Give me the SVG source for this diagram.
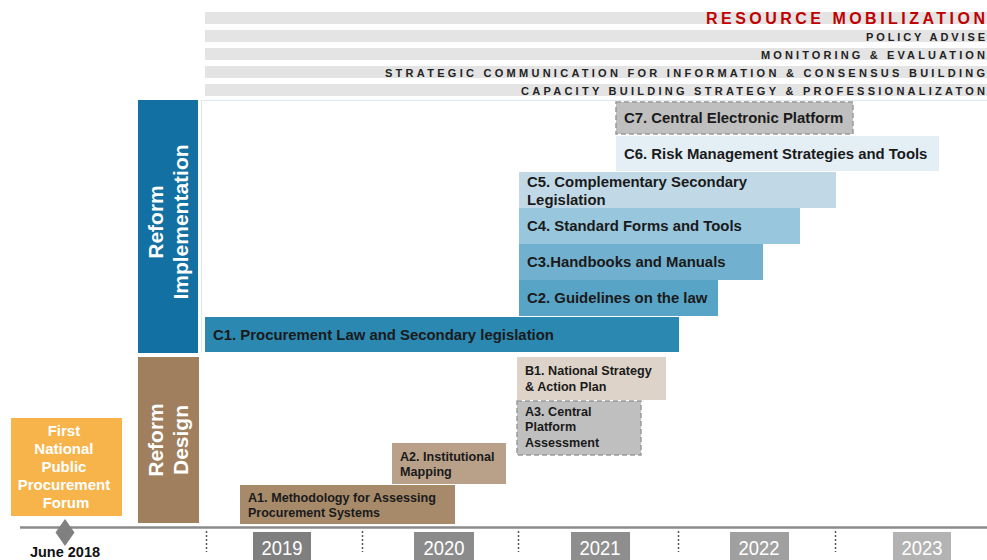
<svg xmlns="http://www.w3.org/2000/svg" width="987" height="560" viewBox="0 0 987 560">
<style>
.band{fill:#e4e4e4}
.bt{font-family:"Liberation Sans",Arial,sans-serif;font-size:11px;font-weight:bold;fill:#222}
.red{font-family:"Liberation Sans",Arial,sans-serif;font-size:16px;font-weight:bold;fill:#c00000}
.ct{font-family:"Liberation Sans",Arial,sans-serif;font-size:14.9px;font-weight:bold;fill:#1a1a1a}
.at{font-family:"Liberation Sans",Arial,sans-serif;font-size:12.6px;font-weight:bold;fill:#1a1a1a}
.wt{font-family:"Liberation Sans",Arial,sans-serif;font-weight:bold;fill:#ffffff}
.yr{font-family:"Liberation Sans",Arial,sans-serif;font-size:20px;fill:#ffffff}
.dash{fill:#bfbfbf;stroke:#9a9a9a;stroke-width:1.5;stroke-dasharray:5,3}
.dot{stroke:#555;stroke-width:1.5;stroke-dasharray:2,2}
</style>
<rect width="987" height="560" fill="#ffffff"/>

<g id="bands">
<rect class="band" x="205" y="12" width="782" height="12"/>
<text class="red" x="706" y="23.5" textLength="279" lengthAdjust="spacing">RESOURCE MOBILIZATION</text>
<rect class="band" x="205" y="30" width="782" height="12"/>
<text class="bt" x="866" y="40.5" textLength="119" lengthAdjust="spacing">POLICY ADVISE</text>
<rect class="band" x="205" y="48" width="782" height="12"/>
<text class="bt" x="761" y="58.5" textLength="224" lengthAdjust="spacing">MONITORING &amp; EVALUATION</text>
<rect class="band" x="205" y="66" width="782" height="12"/>
<text class="bt" x="385" y="76.5" textLength="600" lengthAdjust="spacing">STRATEGIC COMMUNICATION FOR INFORMATION &amp; CONSENSUS BUILDING</text>
<rect class="band" x="205" y="84" width="782" height="12"/>
<text class="bt" x="521" y="94.5" textLength="464" lengthAdjust="spacing">CAPACITY BUILDING STRATEGY &amp; PROFESSIONALIZATON</text>
</g>

<g id="frame">
<line x1="202" y1="100.5" x2="987" y2="100.5" stroke="#dfe6ec" stroke-width="1"/>
<line x1="201.5" y1="100" x2="201.5" y2="352" stroke="#dfe6ec" stroke-width="1"/>
</g>

<g id="reform-implementation">
<rect x="138" y="100" width="60" height="253" fill="#1270a2"/>
<g transform="translate(168,222) rotate(-90)">
<text class="wt" font-size="21" x="0" y="-5" text-anchor="middle">Reform</text>
<text class="wt" font-size="21" x="0" y="20" text-anchor="middle">Implementation</text>
</g>
</g>

<g id="reform-design">
<rect x="138" y="357" width="61" height="166" fill="#a07f5e"/>
<g transform="translate(168,440) rotate(-90)">
<text class="wt" font-size="21" x="0" y="-5" text-anchor="middle">Reform</text>
<text class="wt" font-size="21" x="0" y="20" text-anchor="middle">Design</text>
</g>
</g>

<g id="forum">
<rect x="11" y="418" width="111" height="98" fill="#f6b44b"/>
<text class="wt" font-size="15" text-anchor="middle">
<tspan x="66" y="436">First</tspan>
<tspan x="66" y="454">National</tspan>
<tspan x="66" y="472">Public</tspan>
<tspan x="66" y="490">Procurement</tspan>
<tspan x="66" y="508">Forum</tspan>
</text>
</g>

<g id="c7">
<rect class="dash" x="616" y="102" width="237" height="32"/>
<text class="ct" x="624" y="123">C7. Central Electronic Platform</text>
</g>
<g id="c6">
<rect x="616" y="136" width="323" height="35" fill="#e3eef5"/>
<text class="ct" x="624" y="159">C6. Risk Management Strategies and Tools</text>
</g>
<g id="c5">
<rect x="519" y="172" width="317" height="36" fill="#c1d9e6"/>
<text class="ct" x="527" y="187">C5. Complementary Secondary</text>
<text class="ct" x="527" y="205">Legislation</text>
</g>
<g id="c4">
<rect x="519" y="208" width="281" height="36" fill="#98c6dc"/>
<text class="ct" x="527" y="231">C4. Standard Forms and Tools</text>
</g>
<g id="c3">
<rect x="519" y="244" width="244" height="36" fill="#72b0cf"/>
<text class="ct" x="527" y="267">C3.Handbooks and Manuals</text>
</g>
<g id="c2">
<rect x="519" y="280" width="199" height="36" fill="#58a4c6"/>
<text class="ct" x="527" y="303">C2. Guidelines on the law</text>
</g>
<g id="c1">
<rect x="205" y="317" width="474" height="35" fill="#2b88b1"/>
<text class="ct" x="213" y="340">C1. Procurement Law and Secondary legislation</text>
</g>

<g id="b1">
<rect x="517" y="357" width="149" height="43" fill="#ddd3c8"/>
<text class="at" x="525" y="375">B1. National Strategy</text>
<text class="at" x="525" y="391">&amp; Action Plan</text>
</g>
<g id="a3">
<rect class="dash" x="517" y="401" width="124" height="54"/>
<text class="at" x="525" y="416">A3. Central</text>
<text class="at" x="525" y="431">Platform</text>
<text class="at" x="525" y="447">Assessment</text>
</g>
<g id="a2">
<rect x="392" y="443" width="114" height="41" fill="#b9a089"/>
<text class="at" x="400" y="461">A2. Institutional</text>
<text class="at" x="400" y="476">Mapping</text>
</g>
<g id="a1">
<rect x="240" y="485" width="215" height="39" fill="#a68a6a"/>
<text class="at" x="248" y="502" textLength="188" lengthAdjust="spacingAndGlyphs">A1. Methodology for Assessing</text>
<text class="at" x="248" y="517" textLength="132" lengthAdjust="spacingAndGlyphs">Procurement Systems</text>
</g>

<g id="timeline">
<line x1="20" y1="527.5" x2="987" y2="527.5" stroke="#8a8a8a" stroke-width="2.5"/>
<polygon points="65,519 74.5,532.5 65,546 55.5,532.5" fill="#808080"/>
<text x="65" y="557" text-anchor="middle" font-family="'Liberation Sans',Arial,sans-serif" font-size="14.5" font-weight="bold" fill="#111">June 2018</text>
<line class="dot" x1="206.5" y1="531" x2="206.5" y2="552"/>
<line class="dot" x1="362.5" y1="531" x2="362.5" y2="552"/>
<line class="dot" x1="518.5" y1="531" x2="518.5" y2="552"/>
<line class="dot" x1="678.5" y1="531" x2="678.5" y2="552"/>
<line class="dot" x1="835.5" y1="531" x2="835.5" y2="552"/>
<rect x="253" y="532" width="58" height="28" fill="#7f7f7f"/>
<text class="yr" x="282" y="555" text-anchor="middle" textLength="41" lengthAdjust="spacingAndGlyphs">2019</text>
<rect x="414" y="532" width="60" height="28" fill="#8b8b8b"/>
<text class="yr" x="444" y="555" text-anchor="middle" textLength="41" lengthAdjust="spacingAndGlyphs">2020</text>
<rect x="571" y="532" width="59" height="28" fill="#8e8e8e"/>
<text class="yr" x="600" y="555" text-anchor="middle" textLength="41" lengthAdjust="spacingAndGlyphs">2021</text>
<rect x="730" y="532" width="59" height="28" fill="#a0a0a0"/>
<text class="yr" x="759" y="555" text-anchor="middle" textLength="41" lengthAdjust="spacingAndGlyphs">2022</text>
<rect x="893" y="532" width="58" height="28" fill="#b3b3b3"/>
<text class="yr" x="922" y="555" text-anchor="middle" textLength="41" lengthAdjust="spacingAndGlyphs">2023</text>
</g>
</svg>
